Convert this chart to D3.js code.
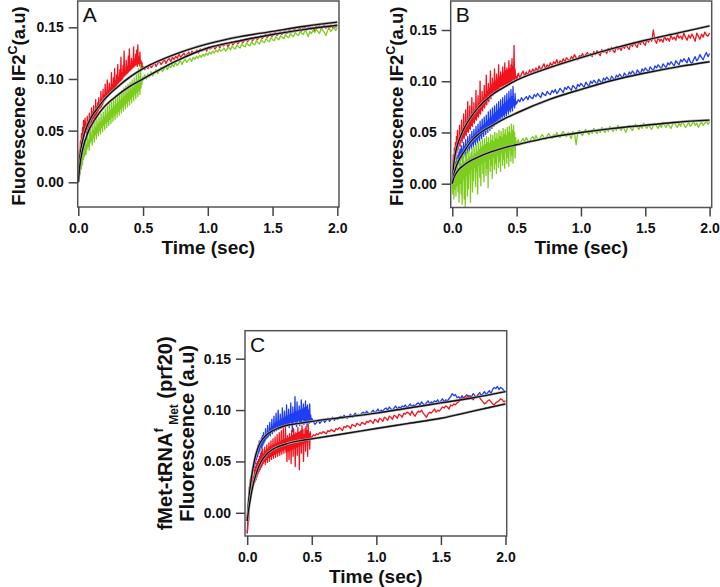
<!DOCTYPE html>
<html><head><meta charset="utf-8">
<script src="https://cdn.jsdelivr.net/npm/d3@7"></script>
<style>body{margin:0;background:#fff}svg{display:block}</style>
</head><body>
<svg id="chart" width="720" height="587"></svg>
<script>
// ---------- DATA (fluorescence values in thousandths of a.u.) ----------
const xTicks = [0, 0.5, 1.0, 1.5, 2.0];
const yTicks = [0, 0.05, 0.10, 0.15];
const denseSpan = [0, 0.5];    // fast-sampled segment (sec)
const sparseSpan = [0.5, 2.0]; // slow-sampled segment (sec)
const fitTimes = [0, 0.01, 0.02, 0.04, 0.06, 0.08, 0.1, 0.15, 0.2, 0.3, 0.4, 0.5, 0.75, 1.0, 1.25, 1.5, 1.75, 2.0];

// Panel A
const aRedDense = [2,20,31,24,40,29,47,35,53,41,60,45,56,62,48,57,44,64,51,59,53,67,55,61,58,72,57,68,62,74,60,66,64,80,63,73,67,77,69,82,71,76,72,88,73,80,75,90,77,84,79,95,80,87,82,99,83,89,85,96,86,91,87,106,88,94,90,101,91,110,92,98,93,104,95,114,96,101,97,109,98,121,99,106,100,113,102,127,103,108,104,118,105,112,106,122,107,129,108,114,109,120,110,117,111,131,112,119,113,124,114,128,112,133,115,121,113,126,112,118,111,116,110,112];
const aRedSparse = [111,109,112,110,114,111,113,116,112,115,117,114,116,119,115,118,120,117,121,119,122,120,124,121,123,125,122,124,126,123,127,125,126,128,125,129,127,128,130,127,131,129,130,132,129,131,133,130,134,132,133,135,131,134,136,133,135,137,134,136,138,135,137,139,136,138,140,137,139,141,138,140,142,139,141,143,140,142,144,141,143,145,142,144,146,143,145,147,144,146,148,145,147,149,146,148,150,146,149,151,147,149,152,148,150,147,151,149,152,148,150,153,149,151,148,152,150,149,151,150];
const aGreenDense = [0,9,3,16,8,22,13,27,17,33,22,38,25,30,42,27,37,32,46,35,41,31,49,38,53,40,45,36,56,43,50,39,59,46,53,42,61,48,56,45,63,50,58,47,66,53,60,49,68,55,63,51,71,57,65,53,74,59,67,55,76,61,69,57,79,63,71,59,81,65,73,61,83,67,75,63,85,69,77,65,87,71,79,67,89,73,81,69,91,75,83,71,93,77,85,73,95,79,87,75,97,81,89,77,99,83,91,79,101,85,93,81,104,87,95,83,110,89,97,85,114,91,99,95,102,99];
const aGreenSparse = [101,104,100,105,102,107,103,106,109,105,108,111,107,110,112,109,113,111,114,112,116,113,115,118,114,117,119,116,118,120,117,121,119,122,120,123,121,124,122,125,123,126,124,127,125,128,126,129,127,128,130,127,129,131,128,132,130,129,133,131,130,134,132,131,135,133,132,136,134,133,137,135,134,138,136,135,139,137,136,140,138,137,141,139,138,142,140,139,143,141,140,144,142,141,145,143,142,146,144,143,147,145,141,146,144,147,145,148,146,144,149,147,145,142,147,149,146,148,150,147,149];
const aRedFit = [0,22,32,44,52,58,63,72,80,92,102,110,124,134,141,146,151,155];
const aGreenFit = [0,14,23,35,43,50,55,65,73,84,93,100,117,130,137,143,148,152];

// Panel B
const bRedDense = [0,15,28,10,35,20,40,25,46,30,52,33,44,38,57,36,48,42,62,40,53,45,68,44,56,48,72,47,60,51,80,50,63,54,76,53,66,57,84,56,69,60,79,59,72,63,91,62,75,66,86,65,78,69,100,68,81,72,90,71,84,75,96,74,87,78,106,77,90,81,98,80,93,84,110,83,96,87,103,86,98,89,112,88,100,91,107,90,102,93,116,92,104,95,109,94,106,96,114,95,108,97,118,96,110,98,113,97,111,99,120,98,112,100,116,99,122,101,114,102,135,100,112,103,105,101];
const bRedSparse = [104,108,103,107,110,105,109,106,111,108,112,109,113,110,115,111,114,117,112,116,114,118,115,119,117,121,116,120,118,122,119,123,121,120,124,122,126,123,121,125,124,127,123,126,128,125,127,124,129,126,130,127,125,131,128,130,127,132,129,133,130,128,134,131,133,130,135,132,136,133,131,137,134,138,135,133,139,136,140,137,135,141,138,142,139,150,140,137,143,139,141,138,144,140,142,139,145,141,143,140,146,142,144,141,147,143,140,145,142,146,143,139,147,144,141,146,143,148,145,144,147];
const bBlueDense = [0,8,2,14,6,18,10,21,13,25,16,28,20,31,18,34,22,29,37,25,33,28,40,30,36,27,43,33,38,30,46,35,41,32,48,37,43,34,51,39,46,36,53,41,48,38,56,43,50,40,58,45,52,42,61,47,55,44,63,49,57,46,65,51,59,48,67,53,61,50,70,55,63,52,72,57,65,54,74,59,67,56,76,60,69,58,78,62,71,60,80,64,73,61,82,66,75,63,84,67,77,65,86,69,79,66,88,71,81,68,90,72,83,70,92,74,85,71,95,76,82,74,88,77,80,78];
const bBlueSparse = [78,82,80,84,81,83,85,82,86,84,83,87,85,88,86,84,89,87,86,90,88,87,91,89,92,88,90,93,91,89,94,92,95,93,91,96,94,92,97,95,98,96,94,99,97,95,100,98,101,99,97,102,100,98,103,101,104,102,100,105,103,101,106,104,107,105,103,108,106,104,109,107,110,108,106,111,109,107,112,110,113,111,109,114,112,110,115,113,116,114,112,117,115,113,118,116,119,117,115,120,118,116,121,119,122,120,118,123,119,117,121,124,120,122,126,123,121,125,128,124,127];
const bGreenDense = [0,-10,8,-15,12,-5,18,-12,20,-2,24,-8,15,-18,22,0,27,-10,19,-20,25,5,30,-15,21,-23,28,8,32,-12,24,-5,33,10,26,-18,30,14,35,-8,27,3,36,16,29,-3,38,12,31,-10,40,18,33,6,41,-2,35,20,43,10,37,2,44,22,38,8,46,15,40,-4,45,24,39,12,48,18,42,5,47,26,41,14,50,20,44,10,49,28,43,16,52,22,46,12,51,30,45,18,54,24,48,15,53,31,47,20,55,26,50,17,56,33,49,22,58,28,52,20,57,35,50,25,45,40,38];
const bGreenSparse = [40,43,38,42,44,41,45,42,40,44,46,43,47,44,42,46,48,45,43,47,49,46,44,48,46,50,47,45,49,51,48,46,50,47,44,51,49,38,50,52,49,47,51,53,50,48,52,49,54,51,49,53,50,55,52,50,54,51,56,53,51,55,52,57,54,52,56,53,50,55,57,54,52,56,58,55,53,57,54,59,56,54,58,55,53,57,59,56,54,58,55,60,57,55,59,56,54,58,60,57,55,59,56,61,58,55,57,60,56,58,61,57,59,55,58,60,57,59,61,58,60];
const bRedFit = [0,18,27,38,45,51,56,66,74,86,94,101,113,123,132,140,147,154];
const bBlueFit = [0,8,13,20,25,29,33,42,48,56,63,69,82,92,101,108,114,119];
const bGreenFit = [0,5,8,12,15,17,19,23,26,31,35,38,45,50,54,57,60,62];

// Panel C
const cBlueDense = [-20,-10,2,12,20,28,24,35,30,40,36,45,42,50,44,55,48,58,52,62,55,66,58,70,60,68,64,73,62,75,66,78,68,74,70,82,72,77,73,85,74,79,76,88,75,82,78,91,77,84,80,94,79,86,81,97,80,88,82,100,81,89,83,96,82,91,84,102,83,92,85,99,84,93,86,105,85,94,87,101,83,95,88,107,86,96,79,103,87,97,89,113,86,98,84,108,88,99,90,104,85,100,89,110,87,101,91,106,86,102,90,109,88,103,84,105,89,100,87,106,90,95,88,92];
const cBlueSparse = [87,89,86,88,90,87,89,91,88,90,92,89,91,93,90,92,91,93,94,92,95,93,92,94,96,93,95,97,94,96,95,97,98,96,99,97,96,98,100,97,99,101,98,100,99,101,102,100,103,101,100,102,104,101,103,102,104,103,105,102,104,106,103,105,104,106,107,105,108,106,105,107,109,106,108,107,109,108,110,107,109,111,108,110,109,111,113,116,114,115,112,113,111,114,112,113,115,112,114,113,116,114,112,115,117,114,116,118,115,117,119,116,120,122,121,123,120,122,121,119,118];
const cRedDense = [-20,-15,5,-8,25,10,33,15,30,20,38,24,35,28,42,30,45,32,48,35,50,38,52,40,55,42,58,44,60,46,62,48,57,50,64,47,60,52,66,49,62,54,68,50,64,55,70,52,65,56,72,53,66,57,74,54,67,58,76,55,68,59,78,56,69,60,80,57,70,61,82,58,71,62,84,59,72,50,75,60,73,52,77,61,74,48,80,62,75,55,82,63,76,45,78,64,77,56,83,65,78,42,79,66,80,58,85,67,81,50,76,68,82,60,84,69,80,55,86,70,77,62,79,72,74,73];
const cRedSparse = [74,76,75,77,76,78,77,79,78,77,80,79,81,80,79,82,81,83,82,80,84,83,85,84,82,86,85,84,87,86,85,88,87,86,89,88,90,89,87,91,90,88,92,91,89,93,92,90,94,93,91,95,94,92,96,95,93,97,96,98,97,95,99,96,94,97,99,98,100,97,95,93,96,98,97,99,101,98,100,99,101,103,102,104,103,101,105,104,106,105,107,108,110,112,111,113,112,114,113,111,110,112,113,115,112,110,108,106,107,109,110,108,106,105,107,108,109,111,110,108,109];
const cBlueFit = [-8,10,22,40,53,62,68,76,80,85,87,89,93,97,102,107,112,118];
const cRedFit = [-8,2,10,24,34,42,48,57,62,67,70,72,77,82,87,92,99,106];

// ---------- DRAWING ----------
const RED = "#f2121c", GREEN = "#7ccd1e", BLUE = "#1f3df2";
const FONT = "'Liberation Sans', Arial, Helvetica, sans-serif";
const svg = d3.select("#chart");

function toSeries(dense, sparse) {
  const pts = [];
  dense.forEach((v, i) => pts.push([denseSpan[0] + i * (denseSpan[1] - denseSpan[0]) / (dense.length - 1), v / 1000]));
  sparse.forEach((v, i) => { if (i > 0) pts.push([sparseSpan[0] + i * (sparseSpan[1] - sparseSpan[0]) / (sparse.length - 1), v / 1000]); });
  return pts;
}

function panel(cfg, idx) {
  const x = d3.scaleLinear().domain([0, 2]).range(cfg.xr);
  const y = d3.scaleLinear().domain([0, 0.15]).range(cfg.yr);
  const f = cfg.frame;
  const g = svg.append("g");
  const clipId = "clip" + idx;
  svg.append("clipPath").attr("id", clipId).append("rect")
    .attr("x", f[0]).attr("y", f[1]).attr("width", f[2] - f[0]).attr("height", f[3] - f[1]);

  const line = d3.line().x(d => x(d[0])).y(d => y(d[1]));
  const plot = g.append("g").attr("clip-path", `url(#${clipId})`);
  cfg.traces.forEach(t => {
    plot.append("path").datum(toSeries(t.dense, t.sparse))
      .attr("d", line).attr("fill", "none").attr("stroke", t.color)
      .attr("stroke-width", 1.3).attr("stroke-linejoin", "round");
  });
  const fitLine = d3.line().x(d => x(d[0])).y(d => y(d[1])).curve(d3.curveMonotoneX);
  cfg.fits.forEach(fv => {
    const pts = fitTimes.map((t, i) => [t, fv[i] / 1000]);
    plot.append("path").datum(pts).attr("d", fitLine).attr("fill", "none")
      .attr("stroke", "#b0b0b0").attr("stroke-width", 2.6);
    plot.append("path").datum(pts).attr("d", fitLine).attr("fill", "none")
      .attr("stroke", "#111").attr("stroke-width", 1.4);
  });

  // frame
  g.append("rect").attr("x", f[0]).attr("y", f[1]).attr("width", f[2] - f[0]).attr("height", f[3] - f[1])
    .attr("fill", "none").attr("stroke", "#555").attr("stroke-width", 1.5);

  // axes
  const ya = g.append("g").attr("transform", `translate(${f[0]},0)`)
    .call(d3.axisLeft(y).tickValues(yTicks).tickFormat(d3.format(".2f")).tickSize(9).tickPadding(5));
  const xa = g.append("g").attr("transform", `translate(0,${f[3]})`)
    .call(d3.axisBottom(x).tickValues(xTicks).tickFormat(d3.format(".1f")).tickSize(9).tickPadding(7));
  [ya, xa].forEach(a => {
    a.select(".domain").remove();
    a.selectAll(".tick line").attr("stroke", "#444").attr("stroke-width", 1.5);
    a.selectAll(".tick text").attr("font-family", FONT).attr("font-weight", "bold")
      .attr("font-size", 14).attr("fill", "#111");
  });

  // x title
  g.append("text").attr("x", (f[0] + f[2]) / 2).attr("y", f[3] + 46.5)
    .attr("text-anchor", "middle").attr("font-family", FONT).attr("font-weight", "bold")
    .attr("font-size", 19).attr("fill", "#111").text("Time (sec)");

  // panel letter
  g.append("text").attr("x", f[0] + 5).attr("y", f[1] + 21)
    .attr("font-family", FONT).attr("font-size", 21).attr("fill", "#111").text(cfg.letter);

  // y title
  cfg.ytitle(g, (f[1] + f[3]) / 2);
}

function yTitleIF2(xb) {
  return (g, yc) => {
    const t = g.append("text").attr("transform", `translate(${xb},${yc + 2}) rotate(-90)`)
      .attr("text-anchor", "middle").attr("font-family", FONT).attr("font-weight", "bold")
      .attr("font-size", 18.5).attr("fill", "#111");
    t.append("tspan").text("Fluorescence IF2");
    t.append("tspan").attr("font-size", 12.5).attr("dy", -8).text("C");
    t.append("tspan").attr("dy", 8).text("(a.u)");
  };
}

function yTitleC(g, yc) {
  const t1 = g.append("text").attr("transform", `translate(172,${yc}) rotate(-90)`)
    .attr("text-anchor", "middle").attr("font-family", FONT).attr("font-weight", "bold")
    .attr("font-size", 20).attr("fill", "#111");
  t1.append("tspan").text("fMet-tRNA");
  t1.append("tspan").attr("font-size", 13).attr("dy", -9).text("f");
  t1.append("tspan").attr("font-size", 12).attr("dy", 15).text(" Met");
  t1.append("tspan").attr("dy", -6).text(" (prf20)");
  g.append("text").attr("transform", `translate(194,${yc}) rotate(-90)`)
    .attr("text-anchor", "middle").attr("font-family", FONT).attr("font-weight", "bold")
    .attr("font-size", 20).attr("fill", "#111").text("Fluorescence (a.u)");
}

const panels = [
  { letter: "A", frame: [77.7, 1, 339, 207], xr: [78.3, 337.3], yr: [182.3, 27.3],
    traces: [{dense: aRedDense, sparse: aRedSparse, color: RED}, {dense: aGreenDense, sparse: aGreenSparse, color: GREEN}],
    fits: [aRedFit, aGreenFit], ytitle: yTitleIF2(25) },
  { letter: "B", frame: [450.7, 1, 711.7, 207.5], xr: [452.3, 709.6], yr: [183.7, 30],
    traces: [{dense: bRedDense, sparse: bRedSparse, color: RED}, {dense: bBlueDense, sparse: bBlueSparse, color: BLUE}, {dense: bGreenDense, sparse: bGreenSparse, color: GREEN}],
    fits: [bRedFit, bBlueFit, bGreenFit], ytitle: yTitleIF2(403) },
  { letter: "C", frame: [245, 330.7, 506.7, 536], xr: [247.2, 505.5], yr: [512.8, 358.7],
    traces: [{dense: cBlueDense, sparse: cBlueSparse, color: BLUE}, {dense: cRedDense, sparse: cRedSparse, color: RED}],
    fits: [cBlueFit, cRedFit], ytitle: yTitleC }
];
panels.forEach(panel);
</script>
</body></html>
